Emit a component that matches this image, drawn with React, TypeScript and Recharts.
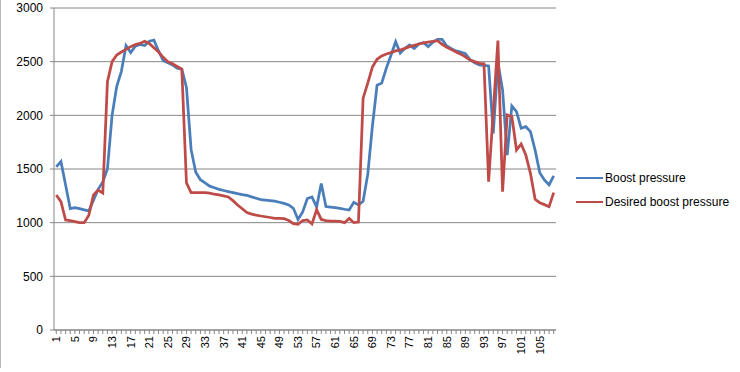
import { LineChart, Line, XAxis, YAxis, CartesianGrid } from 'recharts';

// Sample index 1..108
const samples = Array.from({ length: 108 }, (_, i) => String(i + 1));

const boostPressure = [
  1520, 1570, 1350, 1130, 1140, 1130, 1120, 1110, 1210, 1310,
  1380, 1500, 2000, 2270, 2410, 2650, 2585, 2645, 2660, 2650,
  2690, 2700, 2600, 2510, 2490, 2470, 2440, 2430, 2260, 1680,
  1470, 1400, 1370, 1340, 1325, 1310, 1300, 1290, 1280, 1270,
  1262, 1255, 1240, 1227, 1215, 1210, 1205, 1200, 1190, 1180,
  1165, 1134, 1030, 1100, 1225, 1240, 1145, 1365, 1150, 1145,
  1140, 1134, 1125, 1118, 1190, 1165, 1200, 1450, 1900, 2280,
  2300, 2440, 2560, 2686, 2580, 2624, 2655, 2624, 2665, 2677,
  2640, 2680, 2708, 2708, 2646, 2620, 2600, 2590, 2575, 2520,
  2490, 2470, 2465, 2460, 1832, 2490, 2236, 1630, 2087, 2034,
  1879, 1894, 1848, 1677, 1466, 1398, 1351, 1435,
];

const desiredBoostPressure = [
  1258, 1196, 1025, 1020, 1010, 1000, 1000, 1070, 1258, 1304,
  1276, 2314, 2500, 2562, 2590, 2615, 2640, 2660, 2670, 2690,
  2670, 2630, 2590, 2540, 2500, 2480, 2455, 2430, 1370, 1280,
  1280, 1280, 1280, 1275, 1265, 1258, 1250, 1240, 1205, 1165,
  1130, 1095, 1080, 1070, 1062, 1055, 1048, 1040, 1040, 1038,
  1020, 990, 985, 1020, 1025, 988, 1120, 1030, 1020, 1015,
  1015, 1012, 1000, 1040, 1000, 1005, 2160, 2300, 2450, 2522,
  2553, 2572, 2584, 2600, 2609, 2624, 2640, 2652, 2665, 2675,
  2683, 2690, 2696, 2662, 2634, 2612, 2590, 2570, 2545, 2515,
  2500, 2485, 2480, 1382, 2040, 2696, 1289, 2003, 1988, 1677,
  1733, 1630, 1460, 1218, 1186, 1168, 1149, 1280,
];

const yTicks = [0, 500, 1000, 1500, 2000, 2500, 3000];

const series = [
  { key: 'boost', name: 'Boost pressure', color: '#4A7EBB' },
  { key: 'desired', name: 'Desired boost pressure', color: '#BE4B48' },
];

const data = samples.map((s, i) => ({
  sample: s,
  boost: boostPressure[i],
  desired: desiredBoostPressure[i],
}));

const FONT = '"Liberation Sans", Arial, sans-serif';

// only every 4th category gets a label (1, 5, 9, ...)
function SampleTick(props: any) {
  const { x, y, payload, index } = props;
  if (index % 4 !== 0) return null;
  return (
    <g transform={`translate(${x},${y})`}>
      <text transform="rotate(-90)" textAnchor="end" dy="0.35em" fontSize={11} fill="#000" fontFamily={FONT}>
        {payload.value}
      </text>
    </g>
  );
}

export default function App() {
  return (
    <div style={{ position: 'relative', width: 740, height: 372, background: '#fff', fontFamily: FONT }}>
      <style>{'body{margin:0}'}</style>
      {/* chart area border, only the left edge shows in the crop */}
      <div style={{ position: 'absolute', left: 0, top: 0, width: 1, height: 368, background: '#b8b8b8' }} />
      <LineChart width={740} height={372} data={data} margin={{ top: 8, right: 184, left: 0, bottom: 0 }}>
        <CartesianGrid vertical={false} stroke="#868686" />
        <XAxis
          dataKey="sample"
          interval={0}
          height={42}
          tick={<SampleTick />}
          tickSize={4}
          tickMargin={2}
          padding={{ left: 2.3, right: 2.3 }}
          axisLine={{ stroke: '#868686' }}
          tickLine={{ stroke: '#868686' }}
        />
        <YAxis
          width={54}
          domain={[0, 3000]}
          ticks={yTicks}
          tickSize={4}
          tickMargin={7}
          tick={{ fontSize: 12, fill: '#000', fontFamily: FONT }}
          axisLine={{ stroke: '#868686' }}
          tickLine={{ stroke: '#868686' }}
        />
        {series.map((s) => (
          <Line
            key={s.key}
            type="linear"
            dataKey={s.key}
            name={s.name}
            stroke={s.color}
            strokeWidth={2.75}
            dot={false}
            isAnimationActive={false}
          />
        ))}
      </LineChart>
      <div style={{ position: 'absolute', left: 576, top: 166 }}>
        {series.map((s) => (
          <div key={s.key} style={{ display: 'flex', alignItems: 'center', height: 24, fontSize: 12, color: '#000' }}>
            <span style={{ display: 'inline-block', width: 27, height: 2.5, background: s.color, marginRight: 2 }} />
            {s.name}
          </div>
        ))}
      </div>
    </div>
  );
}
